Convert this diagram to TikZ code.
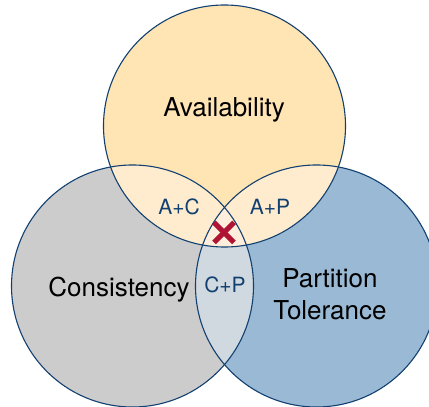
\documentclass[tikz,border=0pt]{standalone}
\usepackage{fontspec}
\setmainfont{TeX Gyre Heros}
\usetikzlibrary{calc}

\definecolor{availfill}{RGB}{255,228,180}
\definecolor{consfill}{RGB}{204,204,204}
\definecolor{partfill}{RGB}{153,185,213}
\definecolor{pairfill}{RGB}{255,236,207}
\definecolor{cpfill}{RGB}{208,217,223}
\definecolor{midfill}{RGB}{255,238,220}
\definecolor{ringblue}{RGB}{18,64,112}
\definecolor{crossred}{RGB}{176,20,52}

\newcommand{\rad}{60.5pt}

\begin{document}
\begin{tikzpicture}[x=0.5pt,y=0.5pt,
  ring/.style={draw=ringblue,line width=0.55pt},
  biglabel/.style={font=\fontsize{13}{16}\selectfont,text=black,align=center},
  pairlabel/.style={font=\fontsize{10.5}{12}\selectfont,text=ringblue}]

\useasboundingbox (0,0) rectangle (429,407);

\coordinate (A) at (224.5,281);
\coordinate (C) at (132.5,121);
\coordinate (P) at (316.5,121);
\coordinate (X) at (224,174.5);

% the three sets
\fill[consfill] (C) circle (\rad);
\fill[partfill] (P) circle (\rad);
\fill[availfill] (A) circle (\rad);

% overlaps
\begin{scope}
  \clip (A) circle (\rad);
  \fill[pairfill] (C) circle (\rad);
  \fill[pairfill] (P) circle (\rad);
\end{scope}
\begin{scope}
  \clip (C) circle (\rad);
  \fill[cpfill] (P) circle (\rad);
  \clip (P) circle (\rad);
  \fill[midfill] (A) circle (\rad);
\end{scope}

\draw[ring] (A) circle (\rad);
\draw[ring] (C) circle (\rad);
\draw[ring] (P) circle (\rad);

\node[biglabel] (avail) at (224,297) {Availability};
\node[biglabel] (cons) at (119,117) {Consistency};
\node[biglabel] (part) at (330,113) {Partition\\Tolerance};

\node[pairlabel] (ac) at (179,200) {A+C};
\node[pairlabel] (ap) at (270,200) {A+P};
\node[pairlabel] (cp) at (225,122) {C+P};

% no A+C+P
\draw[crossred,line width=2.5pt] ($(X)+(-10,-10)$) -- ($(X)+(10,10)$);
\draw[crossred,line width=2.5pt] ($(X)+(-10,10)$) -- ($(X)+(10,-10)$);

\end{tikzpicture}
\end{document}
